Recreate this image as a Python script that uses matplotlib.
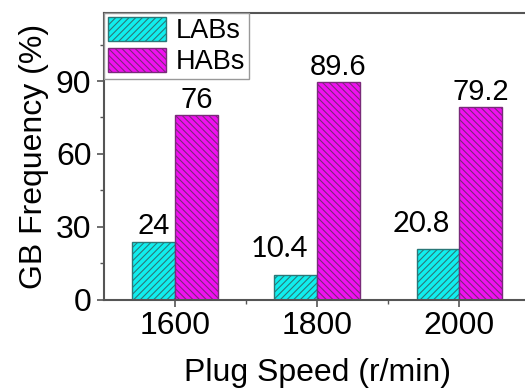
import numpy as np
import matplotlib.pyplot as plt

speeds = ['1600', '1800', '2000']
labs = [24, 10.4, 20.8]
habs = [76, 89.6, 79.2]

plt.rcParams['font.family'] = ['Liberation Sans', 'DejaVu Sans']
plt.rcParams['hatch.linewidth'] = 0.8

fig = plt.figure(figsize=(5.25, 3.91), dpi=100)
ax = fig.add_axes([0.198, 0.233, 0.812, 0.734])

x = np.arange(len(speeds))
w = 0.3
b1 = ax.bar(x - w / 2, labs, w, color='#10eeee', edgecolor='#2a7878',
            hatch='/////', linewidth=1, label='LABs')
b2 = ax.bar(x + w / 2, habs, w, color='#f010f0', edgecolor='#7a2a7a',
            hatch='\\\\\\\\\\', linewidth=1, label='HABs')

# value labels (two of them look like they were typed in another font)
for i, v in enumerate(labs):
    if i == 0:
        ax.annotate(f'{v:g}', (x[i] - w / 2, v), xytext=(0, 1),
                    textcoords='offset points', ha='center', va='bottom',
                    fontsize=21)
    else:
        ax.annotate(f'{v:g}', (x[i] - w / 2, v), xytext=(-12, 9),
                    textcoords='offset points', ha='center', va='bottom',
                    fontsize=21, family='Lato')
for i, v in enumerate(habs):
    ax.annotate(f'{v:g}', (x[i] + w / 2, v), xytext=(0, 1),
                textcoords='offset points', ha='center', va='bottom',
                fontsize=21)

ax.set_xlim(-0.5, 2.5)
ax.set_ylim(0, 118)
ax.set_xticks(x)
ax.set_xticklabels(speeds)
ax.set_xticks([0.5, 1.5], minor=True)
ax.set_yticks([0, 30, 60, 90])
ax.set_yticks([15, 45, 75, 105], minor=True)
ax.tick_params(labelsize=23, length=5, width=1.2, color='#555555')
ax.tick_params(axis='x', pad=3)
ax.tick_params(axis='y', pad=4)
ax.tick_params(which='minor', length=3, width=1, color='#555555')
for s in ax.spines.values():
    s.set_color('#555555')
    s.set_linewidth(1.5)

ax.set_xlabel('Plug Speed (r/min)', fontsize=23, labelpad=12)
ax.set_ylabel('GB Frequency (%)', fontsize=23, labelpad=5)

leg = ax.legend(loc='upper left', fontsize=19.5, borderaxespad=0,
                fancybox=False, edgecolor='#999999', framealpha=1,
                handlelength=2.15, handleheight=1.0, borderpad=0.15,
                labelspacing=0.12, handletextpad=0.35)

fig.savefig('out.png', dpi=100)
